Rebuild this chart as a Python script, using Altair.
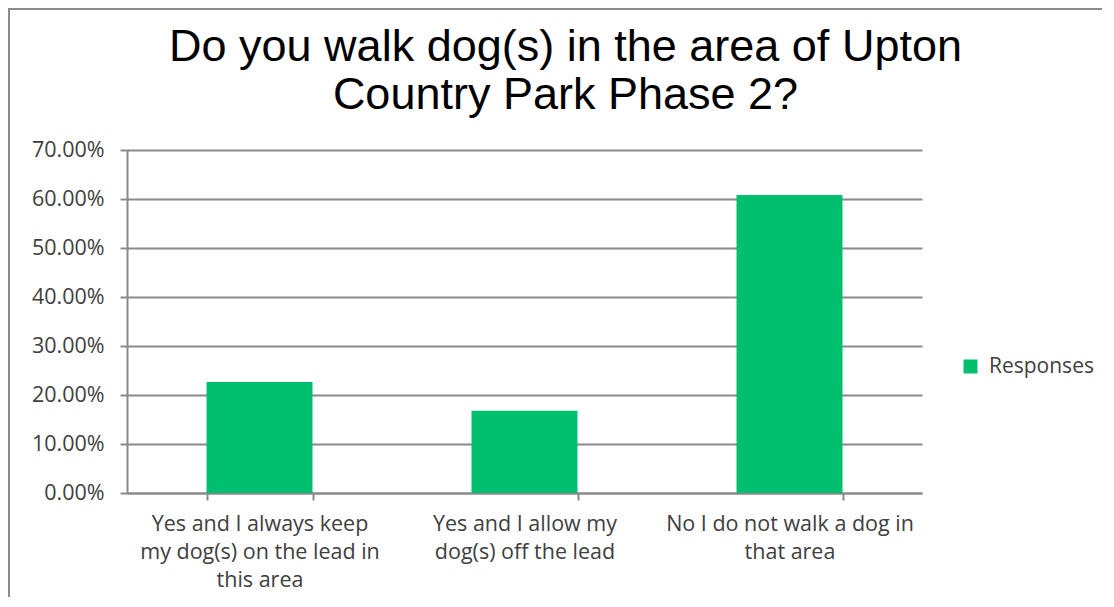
import altair as alt
import pandas as pd

# ---- data ----
CATEGORIES = [
    "Yes and I always keep\nmy dog(s) on the lead in\nthis area",
    "Yes and I allow my\ndog(s) off the lead",
    "No I do not walk a dog in\nthat area",
]
VALUES = [0.2265, 0.168, 0.608]
SERIES = "Responses"
Y_TICKS = [0.0, 0.1, 0.2, 0.3, 0.4, 0.5, 0.6, 0.7]
TITLE_LINES = ["Do you walk dog(s) in the area of Upton", "Country Park Phase 2?"]

GREEN = "#00BF6F"
GREY = "#8A8A8A"
LABEL_FONT = "Open Sans"
LABEL_COLOR = "#404040"

df = pd.DataFrame({"category": CATEGORIES, "value": VALUES, "series": [SERIES] * len(CATEGORIES)})

W, H = 795, 343

bars = alt.Chart(df).mark_bar().encode(
    x=alt.X(
        "category:N",
        sort=CATEGORIES,
        scale=alt.Scale(paddingInner=0.6, paddingOuter=0.3),
        axis=alt.Axis(
            title=None,
            labelAngle=0,
            tickBand="extent",
            labelExpr="split(datum.label, '\\n')",
            labelLimit=0,
            labelOverlap=False,
            labelFont=LABEL_FONT,
            labelFontSize=21.5,
            labelColor=LABEL_COLOR,
            labelLineHeight=28,
            labelPadding=13,
            tickSize=7,
            tickColor=GREY,
            tickWidth=2,
            domainColor=GREY,
            domainWidth=2,
            grid=False,
        ),
    ),
    y=alt.Y(
        "value:Q",
        scale=alt.Scale(domain=[0, 0.7], nice=False),
        axis=alt.Axis(
            title=None,
            values=Y_TICKS,
            format=".2%",
            labelFont=LABEL_FONT,
            labelFontSize=21.5,
            labelColor=LABEL_COLOR,
            labelPadding=16,
            tickSize=7,
            tickColor=GREY,
            tickWidth=2,
            domainColor=GREY,
            domainWidth=2,
            grid=True,
            gridColor=GREY,
            gridWidth=2,
        ),
    ),
    color=alt.Color(
        "series:N",
        scale=alt.Scale(domain=[SERIES], range=[GREEN]),
        legend=alt.Legend(
            title=None,
            orient="none",
            legendX=833,
            legendY=206,
            symbolType="square",
            symbolSize=196,
            symbolStrokeWidth=0,
            labelFont=LABEL_FONT,
            labelFontSize=21,
            labelColor=LABEL_COLOR,
            labelOffset=8,
            padding=0,
        ),
    ),
)

frame_df = pd.DataFrame({"k": [0]})
left_border = alt.Chart(frame_df).mark_rule(color=GREY, strokeWidth=2).encode(
    x=alt.value(-118), y=alt.value(-141), y2=alt.value(H + 110)
)
top_border = alt.Chart(frame_df).mark_rule(color=GREY, strokeWidth=2).encode(
    x=alt.value(-119), x2=alt.value(W + 190), y=alt.value(-141)
)

chart = alt.layer(bars, left_border, top_border).properties(
    width=W,
    height=H,
    autosize=alt.AutoSizeParams(type="none"),
    padding={"left": 119, "top": 142, "right": 180, "bottom": 104},
    title=alt.Title(
        TITLE_LINES,
        font="Liberation Sans",
        fontSize=45,
        fontWeight="normal",
        color="black",
        anchor="middle",
        dx=41,
        lineHeight=48,
        offset=-110,
    ),
).configure_view(stroke=None)

chart.save("out.html", embed_options={"renderer": "svg", "actions": False})
